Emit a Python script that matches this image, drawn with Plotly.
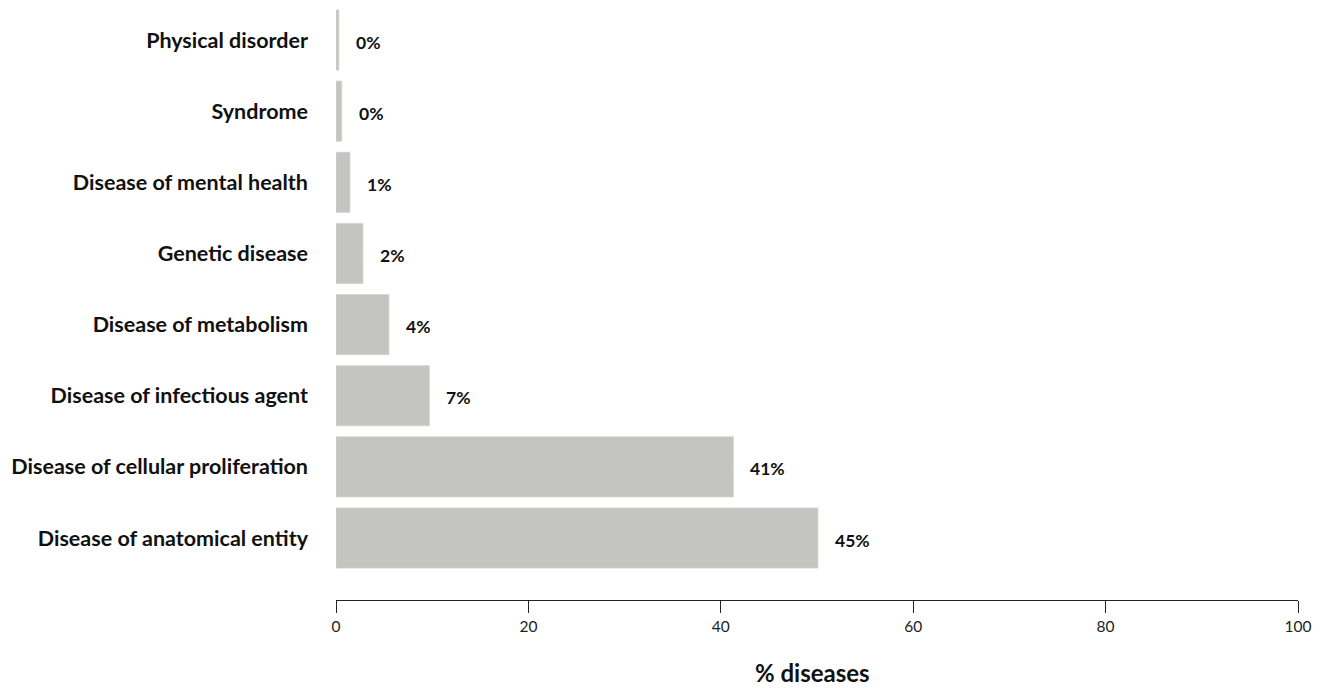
import plotly.graph_objects as go

categories = ["Disease of anatomical entity", "Disease of cellular proliferation",
              "Disease of infectious agent", "Disease of metabolism", "Genetic disease",
              "Disease of mental health", "Syndrome", "Physical disorder"]
bar_values = [50.1, 41.3, 9.7, 5.5, 2.8, 1.45, 0.6, 0.3]
value_labels = ["45%", "41%", "7%", "4%", "2%", "1%", "0%", "0%"]
x_ticks = [0, 20, 40, 60, 80, 100]
x_title = "% diseases"

# page body has an 8px margin, so figure is offset by 8px inside the window
W, H = 1312, 680
left, right, top, bottom = 328, 22, 0, 88

fig = go.Figure()
fig.add_trace(go.Bar(
    x=bar_values, y=list(range(len(categories))), orientation="h",
    marker=dict(color="#c4c5c0", line=dict(color="#d2d3cf", width=0.8)),
    width=0.845, hoverinfo="skip"))

for i, (v, t) in enumerate(zip(bar_values, value_labels)):
    fig.add_annotation(x=v, y=i, xref="x", yref="y", text=t, showarrow=False,
                       xanchor="left", yanchor="middle", xshift=15, yshift=-2,
                       font=dict(family="Lato", size=17.5, color="#111111", weight="bold"))

fig.add_annotation(x=0.5, y=0, xref="paper", yref="paper", text=x_title, showarrow=False,
                   xanchor="center", yanchor="middle", xshift=-5, yshift=-72,
                   font=dict(family="Lato", size=24, color="#111111", weight="bold"))

fig.update_layout(
    width=W, height=H, margin=dict(l=left, r=right, t=top, b=bottom, autoexpand=False),
    plot_bgcolor="white", paper_bgcolor="white", showlegend=False,
    xaxis=dict(range=[0, 100], tickvals=x_ticks, showgrid=False, zeroline=False,
               showline=True, linecolor="#222222", linewidth=1.3, automargin=False,
               ticks="outside", ticklen=12, tickwidth=1.3, tickcolor="#222222",
               tickfont=dict(family="Lato", size=15.5, color="#222222")),
    yaxis=dict(range=[-0.871, 7.45], tickvals=list(range(len(categories))),
               ticktext=categories, showgrid=False, zeroline=False, showline=False,
               ticks="", ticklabelstandoff=27, automargin=False,
               tickfont=dict(family="Lato", size=21.5, color="#111111", weight="bold")),
)

fig.write_html("out.html")
